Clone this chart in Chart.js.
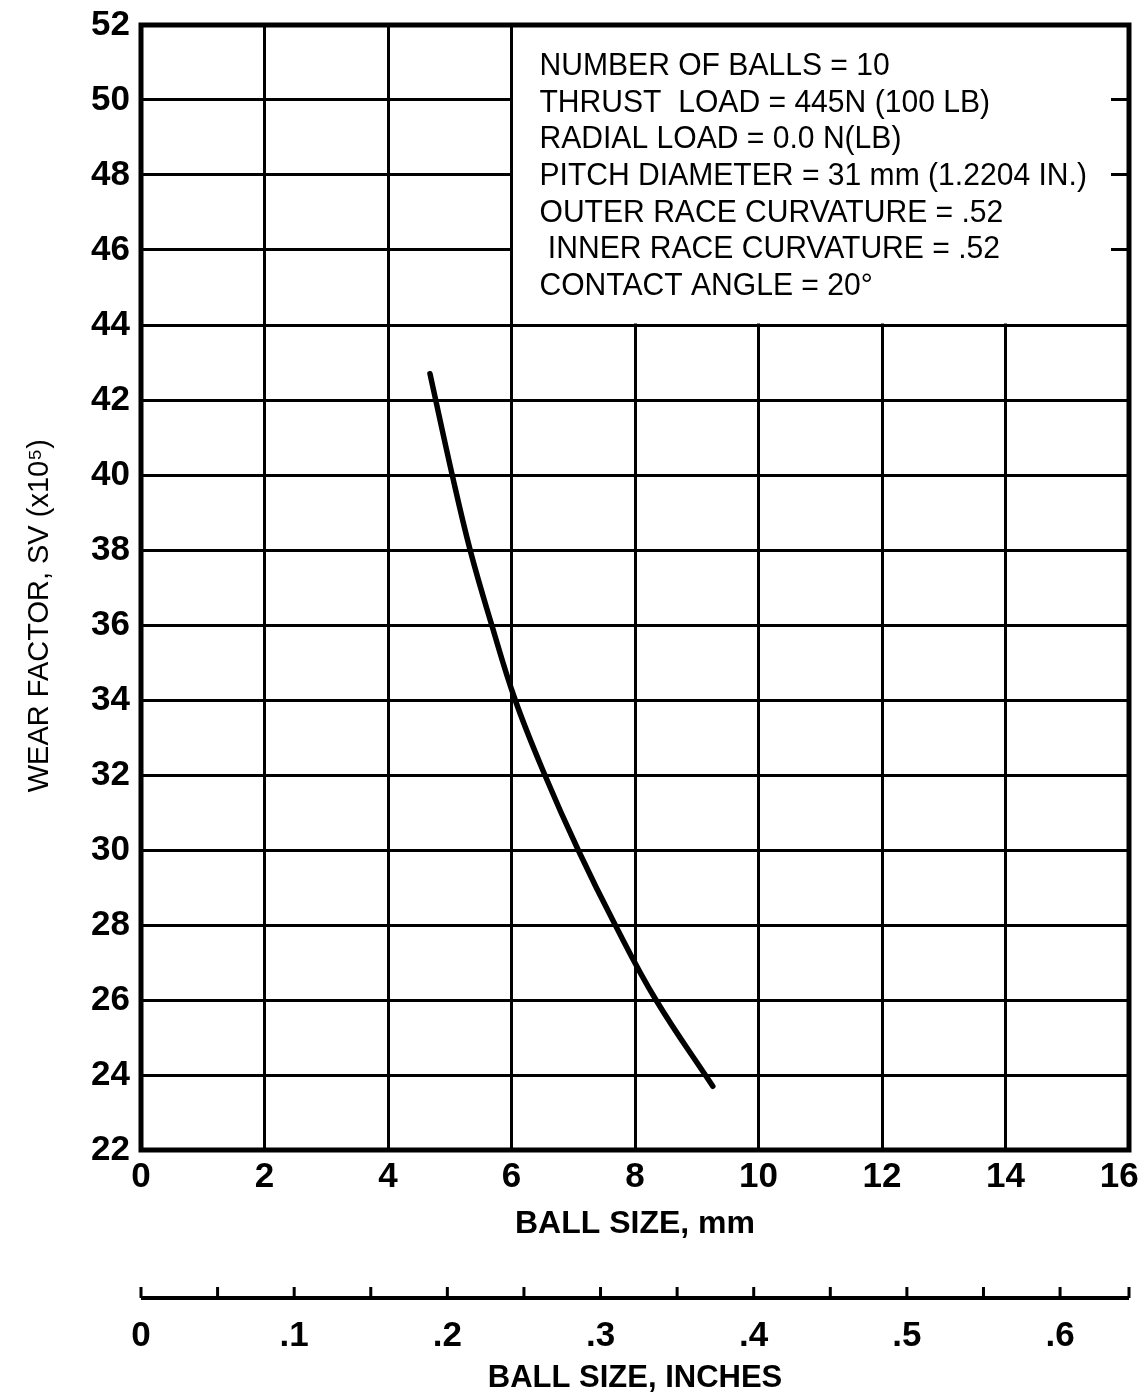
<!DOCTYPE html>
<html>
<head>
<meta charset="utf-8">
<script src="https://cdn.jsdelivr.net/npm/chart.js@4.4.1/dist/chart.umd.min.js"></script>
<style>
  html, body { margin: 0; padding: 0; background: #fff; }
  #wrap { width: 1140px; height: 1398px; }
</style>
</head>
<body>
<div id="wrap"><canvas id="chart" width="1140" height="1398"></canvas></div>
<script>
// curve: ball size (mm) vs wear factor SV (x10^5)
const ballMm = [4.68, 5.04, 5.33, 5.68, 6.06, 6.54, 7.08, 7.68, 8.34, 9.26];
const wearFactor = [42.7, 40, 38, 36, 34, 32, 30, 28, 26, 23.7];

const mmTicks = [0, 2, 4, 6, 8, 10, 12, 14, 16];
const mmLabels = ['0', '2', '4', '6', '8', '10', '12', '14', '16  '];
const wearTicks = [22, 24, 26, 28, 30, 32, 34, 36, 38, 40, 42, 44, 46, 48, 50, 52];
const inchTicks = [0, 0.1, 0.2, 0.3, 0.4, 0.5, 0.6];
const inchLabels = ['0', '.1', '.2', '.3', '.4', '.5', '.6'];
const inchMarks = [0, 0.05, 0.1, 0.15, 0.2, 0.25, 0.3, 0.35, 0.4, 0.45, 0.5, 0.55, 0.6, 0.645];
const INCH_MAX = 0.645;

const noteLines = [
  'NUMBER OF BALLS = 10',
  'THRUST  LOAD = 445N (100 LB)',
  'RADIAL LOAD = 0.0 N(LB)',
  'PITCH DIAMETER = 31 mm (1.2204 IN.)',
  'OUTER RACE CURVATURE = .52',
  ' INNER RACE CURVATURE = .52',
  'CONTACT ANGLE = 20°',
];

const FONT = "'Liberation Sans', Arial, sans-serif";
const INK = '#000';

const setTicks = (vals) => (scale) => {
  scale.ticks = vals.map((v) => ({ value: v }));
};

// white note box over the upper right cells, plus the heavy frame
const notesPlugin = {
  id: 'notes',
  beforeDatasetsDraw(chart) {
    const { ctx, chartArea: a, scales } = chart;
    const left = scales.x.getPixelForValue(6);
    const bottom = scales.y.getPixelForValue(44);
    ctx.save();
    ctx.fillStyle = '#fff';
    ctx.fillRect(left + 1.5, a.top, a.right - 18 - left - 1.5, bottom - 1.5 - a.top);

    ctx.fillStyle = INK;
    ctx.font = `32px ${FONT}`;
    ctx.textBaseline = 'middle';
    noteLines.forEach((t, i) => {
      ctx.save();
      ctx.translate(left + 28, a.top + 41 + i * 36.7);
      ctx.scale(0.94, 1);
      ctx.fillText(t, 0, 0);
      ctx.restore();
    });

    ctx.lineWidth = 5;
    ctx.strokeStyle = INK;
    ctx.strokeRect(a.left, a.top, a.right - a.left, a.bottom - a.top);
    ctx.restore();
  },
  afterDraw(chart) {
    // inch scale: base line with tick marks pointing up
    const { ctx } = chart;
    const x2 = chart.scales.x2;
    const yl = x2.top + 48;
    ctx.save();
    ctx.strokeStyle = INK;
    ctx.lineWidth = 4;
    ctx.beginPath();
    ctx.moveTo(x2.left, yl);
    ctx.lineTo(x2.right, yl);
    ctx.stroke();
    ctx.lineWidth = 3;
    ctx.beginPath();
    for (const v of inchMarks) {
      const px = x2.getPixelForValue(v);
      ctx.moveTo(px, yl);
      ctx.lineTo(px, yl - 11);
    }
    ctx.stroke();
    ctx.restore();
  },
};

new Chart(document.getElementById('chart'), {
  type: 'line',
  data: {
    datasets: [
      {
        data: ballMm.map((x, i) => ({ x, y: wearFactor[i] })),
        borderColor: INK,
        borderWidth: 5.5,
        borderCapStyle: 'round',
        pointRadius: 0,
        tension: 0.4,
        fill: false,
      },
    ],
  },
  options: {
    responsive: false,
    animation: false,
    devicePixelRatio: 1,
    layout: { padding: { top: 25, right: 11, left: 0, bottom: 0 } },
    plugins: { legend: { display: false }, tooltip: { enabled: false } },
    scales: {
      x: {
        type: 'linear',
        position: 'bottom',
        weight: 0,
        min: 0,
        max: 16,
        afterBuildTicks: setTicks(mmTicks),
        afterFit(s) {
          s.height = 100;
          s.paddingLeft = 0;
          s.paddingRight = 0;
        },
        grid: { color: INK, lineWidth: 3, drawTicks: false },
        border: { display: false },
        ticks: {
          color: INK,
          padding: 6,
          maxRotation: 0,
          font: { family: FONT, size: 35, weight: 'bold' },
          callback: (v, i) => mmLabels[i],
        },
        title: {
          display: true,
          text: 'BALL SIZE, mm',
          color: INK,
          padding: { top: 0, bottom: 7 },
          font: { family: FONT, size: 32, weight: 'bold' },
        },
      },
      x2: {
        type: 'linear',
        position: 'bottom',
        weight: 1,
        min: 0,
        max: INCH_MAX,
        afterBuildTicks: setTicks(inchTicks),
        afterFit(s) {
          s.height = 148;
          s.paddingLeft = 0;
          s.paddingRight = 0;
        },
        grid: { display: false },
        border: { display: false },
        ticks: {
          color: INK,
          padding: 57,
          maxRotation: 0,
          font: { family: FONT, size: 35, weight: 'bold' },
          callback: (v, i) => inchLabels[i],
        },
        title: {
          display: true,
          text: 'BALL SIZE, INCHES',
          color: INK,
          padding: { top: 0, bottom: 1 },
          font: { family: FONT, size: 31, weight: 'bold' },
        },
      },
      y: {
        type: 'linear',
        position: 'left',
        min: 22,
        max: 52,
        afterBuildTicks: setTicks(wearTicks),
        afterFit(s) {
          s.width = 141;
          s.paddingTop = 0;
          s.paddingBottom = 0;
        },
        grid: { color: INK, lineWidth: 3, drawTicks: false },
        border: { display: false },
        ticks: {
          color: INK,
          padding: 11,
          font: { family: FONT, size: 35, weight: 'bold' },
        },
        title: {
          display: true,
          // trailing spaces push the centred title down to where the original sits
          text: 'WEAR FACTOR, SV (x10⁵)\u00a0\u00a0\u00a0\u00a0\u00a0\u00a0\u00a0',
          color: INK,
          padding: { top: 23, bottom: 0 },
          font: { family: FONT, size: 29 },
        },
      },
    },
  },
  plugins: [notesPlugin],
});
</script>
</body>
</html>
